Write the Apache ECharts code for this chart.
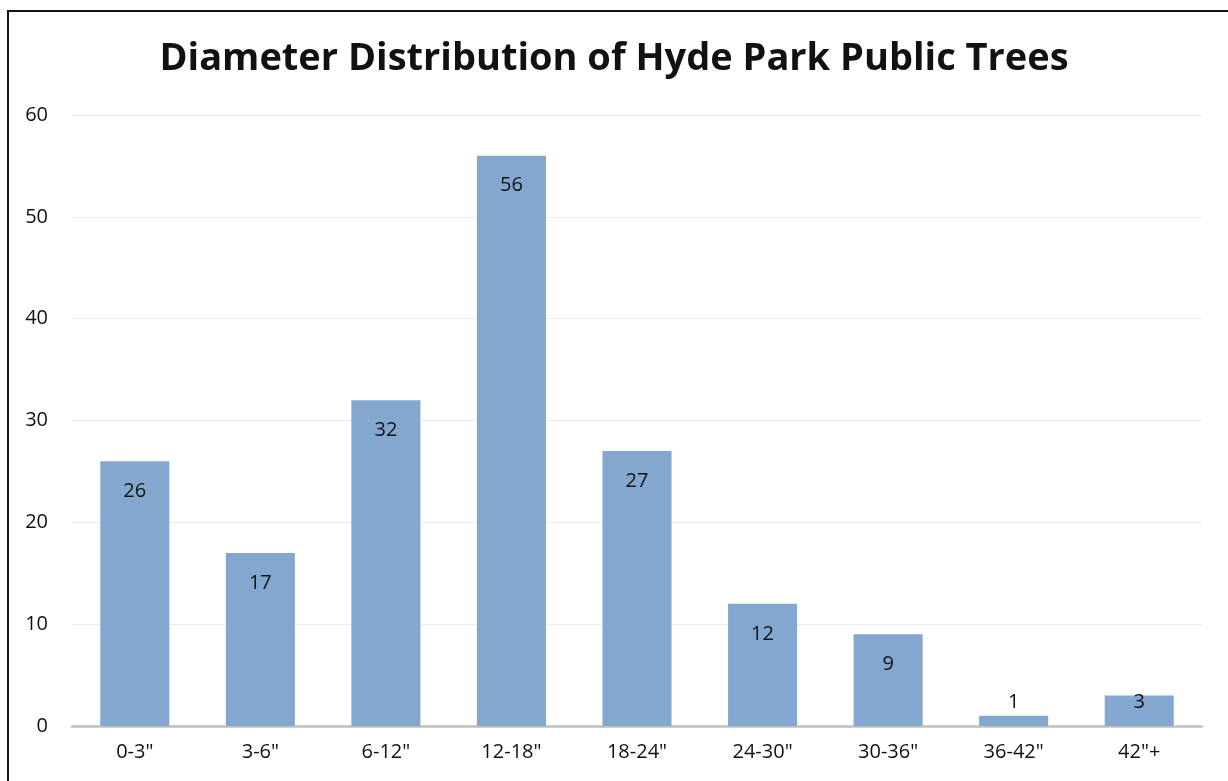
<!DOCTYPE html>
<html>
<head>
<meta charset="utf-8">
<script src="https://cdn.jsdelivr.net/npm/echarts@6/dist/echarts.min.js"></script>
<style>
	html, body {
		margin: 0;
		padding: 0;
		background: #ffffff;
	}

	.frame {
		position: absolute;
		left: 7px;
		top: 10px;
		width: 1230px;
		height: 780px;
		border-left: 2px solid #111111;
		border-top: 2px solid #111111;
	}

	#myChart {
		position: absolute;
		left: 0;
		top: 0;
		width: 1228px;
		height: 781px;
	}
</style>
</head>
<body>
<div class="frame"></div>
<div id="myChart"></div>
<script>
	// 数据
	var categories = ['0-3"', '3-6"', '6-12"', '12-18"', '18-24"', '24-30"', '30-36"', '36-42"', '42"+'];
	var treeCounts = [26, 17, 32, 56, 27, 12, 9, 1, 3];
	var yTicks = [0, 10, 20, 30, 40, 50, 60];

	var fontName = "Open Sans";

	// 小柱子的标签放在柱子外面
	var barData = treeCounts.map(function(v) {
		if (v < 5) {
			return {
				value: v,
				label: {
					position: "insideBottom",
					distance: 14
				}
			};
		}
		return v;
	});

	var myChart = echarts.init(document.getElementById("myChart"));

	var option = {
		animation: false,
		title: {
			text: "Diameter Distribution of Hyde Park Public Trees",
			left: "center",
			top: 35,
			textStyle: {
				fontFamily: fontName,
				fontSize: 38,
				fontWeight: "bold",
				color: "#111111"
			}
		},
		grid: {
			left: 72,
			right: 26,
			top: 115,
			bottom: 55
		},
		xAxis: {
			type: "category",
			data: categories,
			axisTick: {
				show: false
			},
			axisLine: {
				lineStyle: {
					color: "#bfbfbf",
					width: 2.5
				}
			},
			axisLabel: {
				margin: 16,
				fontFamily: fontName,
				fontSize: 20,
				color: "#111111"
			}
		},
		yAxis: {
			type: "value",
			min: yTicks[0],
			max: yTicks[yTicks.length - 1],
			interval: 10,
			axisLine: {
				show: false
			},
			axisTick: {
				show: false
			},
			splitLine: {
				lineStyle: {
					color: "#ececec",
					width: 1
				}
			},
			axisLabel: {
				margin: 24,
				fontFamily: fontName,
				fontSize: 20,
				color: "#111111"
			}
		},
		series: [{
			type: "bar",
			data: barData,
			barWidth: "55%",
			itemStyle: {
				color: "#84a7d0"
			},
			label: {
				show: true,
				position: "insideTop",
				distance: 20,
				fontFamily: fontName,
				fontSize: 20,
				color: "#111111"
			}
		}]
	};

	myChart.setOption(option);
</script>
</body>
</html>
